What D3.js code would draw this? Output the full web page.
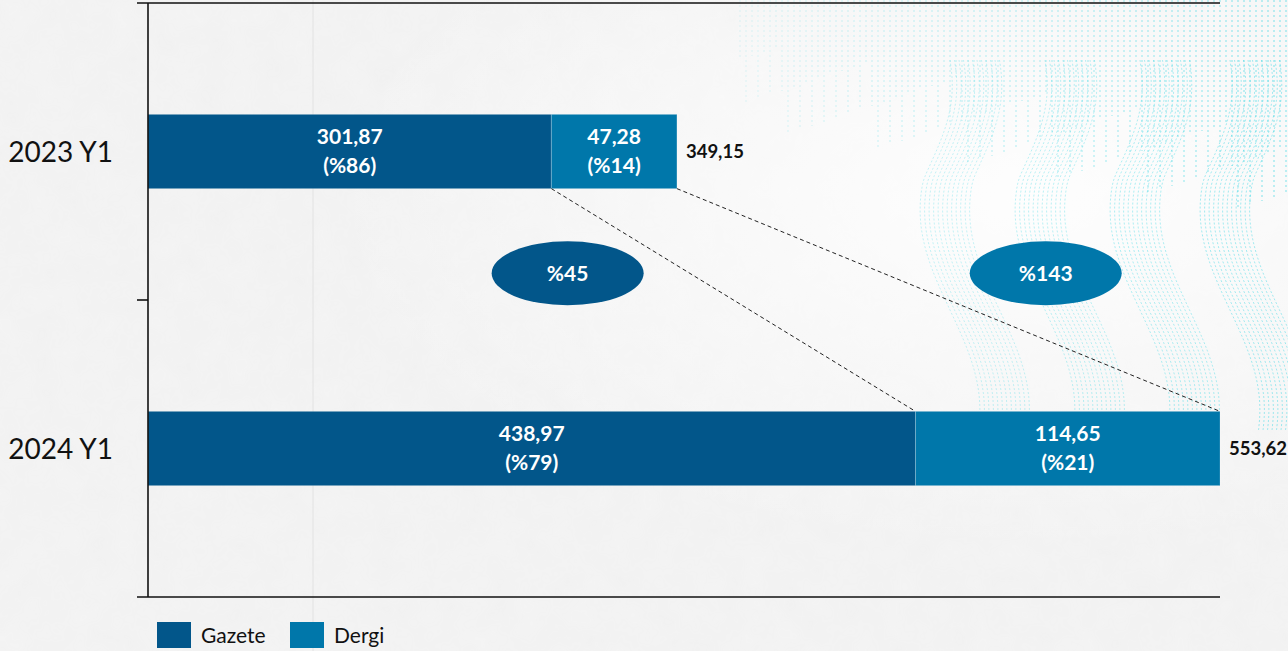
<!DOCTYPE html>
<html>
<head>
<meta charset="utf-8">
<script src="https://cdn.jsdelivr.net/npm/d3@7"></script>
<style>
  html, body { margin: 0; padding: 0; background: #f4f4f4; }
  svg { display: block; font-family: Lato, "Noto Sans", sans-serif; }
</style>
</head>
<body>
<svg id="chart" width="1288" height="651"></svg>
<script>
// data
var categories = ["2023 Y1", "2024 Y1"];
var gazete = [301.87, 438.97];
var dergi = [47.28, 114.65];
var gazetePct = [86, 79];
var dergiPct = [14, 21];
var totals = [349.15, 553.62];
var growthLabels = ["%45", "%143"];
var growthAt = [308, 488];      // x value where the growth bubble sits
var seriesNames = ["Gazete", "Dergi"];
var xDomain = [150, 553.62];

var colGazete = "#02568a";
var colDergi = "#0077aa";

var W = 1288, H = 651;
var plotLeft = 148, plotRight = 1220, plotTop = 3, plotBottom = 597;

var tr = d3.formatLocale({decimal: ",", thousands: ".", grouping: [3], currency: ["", ""]});
var fmt = tr.format(".2f");

var svg = d3.select("#chart");
var defs = svg.append("defs");

// ---- background ----
var grain = defs.append("filter").attr("id", "grain");
grain.append("feTurbulence").attr("type", "fractalNoise").attr("baseFrequency", 0.035).attr("numOctaves", 3).attr("seed", 4);
grain.append("feColorMatrix").attr("type", "matrix")
    .attr("values", "0 0 0 0 0.55  0 0 0 0 0.55  0 0 0 0 0.55  0 0 0 0.10 0");

var glow = defs.append("radialGradient").attr("id", "glow")
    .attr("cx", 0.8).attr("cy", 0.3).attr("r", 0.55);
glow.append("stop").attr("offset", 0).attr("stop-color", "#ffffff").attr("stop-opacity", 0.9);
glow.append("stop").attr("offset", 1).attr("stop-color", "#ffffff").attr("stop-opacity", 0);

svg.append("rect").attr("width", W).attr("height", H).attr("fill", "#f4f4f4");
svg.append("rect").attr("width", W).attr("height", H).attr("filter", "url(#grain)").attr("opacity", 0.6);
svg.append("rect").attr("width", W).attr("height", H).attr("fill", "url(#glow)");

// decorative teal pattern (upper right)
var deco = svg.append("g").attr("fill", "none").attr("stroke", "#3fd8e4");
var waveLine = d3.line().curve(d3.curveBasis);
var bundles = [950, 1045, 1140, 1230, 1320];
bundles.forEach(function(b, bi) {
    for (var k = 0; k < 12; k++) {
        var x0 = b + k * 4.5;
        var pts = d3.range(60, 440, 10).map(function(yy) {
            var amp = 30 * Math.min(1, (yy - 60) / 120);
            return [x0 - amp * Math.sin(Math.PI * (yy - 110) / 200), yy];
        });
        deco.append("path").attr("d", waveLine(pts))
            .attr("stroke-width", 1).attr("stroke-dasharray", "2,2")
            .attr("opacity", 0.3 + 0.06 * bi);
    }
});
// dotted streaks at the top
var streaks = svg.append("g").attr("stroke", "#3fd8e4");
for (var sx = 740; sx < W; sx += 6) {
    var len = 40 + ((sx * 37) % 90);
    streaks.append("line").attr("x1", sx).attr("x2", sx).attr("y1", 0).attr("y2", len + (sx - 740) / 6)
        .attr("stroke-width", 1.5).attr("stroke-dasharray", "2,3")
        .attr("opacity", 0.1 + 0.35 * (sx - 740) / (W - 740));
}
// faint seam line in the background
svg.append("line").attr("x1", 313).attr("x2", 313).attr("y1", 0).attr("y2", H)
    .attr("stroke", "#e2e2e2").attr("stroke-width", 1);

// ---- scales ----
var x = d3.scaleLinear().domain(xDomain).range([plotLeft, plotRight]);
var y = d3.scaleBand().domain(categories).range([plotTop, plotBottom]).paddingInner(0.75).paddingOuter(0.375);
var bw = y.bandwidth();

function xc(v) { return x(Math.max(v, xDomain[0])); }

// ---- bars ----
var rows = categories.map(function(c, i) {
    return {cat: c, g: gazete[i], d: dergi[i], gp: gazetePct[i], dp: dergiPct[i], t: totals[i]};
});

var g = svg.append("g");
rows.forEach(function(r) {
    var y0 = y(r.cat);
    g.append("rect").attr("x", xc(0)).attr("y", y0).attr("width", xc(r.g) - xc(0)).attr("height", bw)
        .attr("fill", colGazete).attr("stroke", "#ffffff").attr("stroke-opacity", 0.2).attr("stroke-width", 1);
    g.append("rect").attr("x", xc(r.g)).attr("y", y0).attr("width", xc(r.g + r.d) - xc(r.g)).attr("height", bw)
        .attr("fill", colDergi).attr("stroke", "#ffffff").attr("stroke-opacity", 0.2).attr("stroke-width", 1);

    var cy = y0 + bw / 2;
    [[xc(0), xc(r.g), r.g, r.gp], [xc(r.g), xc(r.g + r.d), r.d, r.dp]].forEach(function(s) {
        var t = g.append("text").attr("x", (s[0] + s[1]) / 2).attr("text-anchor", "middle")
            .attr("fill", "#ffffff").attr("font-weight", 700).attr("font-size", 21);
        t.append("tspan").attr("x", (s[0] + s[1]) / 2).attr("y", cy - 8).text(fmt(s[2]));
        t.append("tspan").attr("x", (s[0] + s[1]) / 2).attr("y", cy + 21).text("(%" + s[3] + ")");
    });

    g.append("text").attr("x", x(r.t) + 9).attr("y", cy + 6)
        .attr("font-weight", 700).attr("font-size", 18.5).attr("fill", "#111")
        .text(fmt(r.t));

    g.append("text").attr("x", plotLeft - 35).attr("y", cy + 10).attr("text-anchor", "end")
        .attr("font-size", 28).attr("fill", "#111").text(r.cat);
});

// ---- connector lines ----
var yA = y(categories[0]) + bw, yB = y(categories[1]);
var conn = svg.append("g").attr("stroke", "#222").attr("stroke-width", 1).attr("stroke-dasharray", "4,3");
conn.append("line").attr("x1", x(gazete[0])).attr("y1", yA).attr("x2", x(gazete[1])).attr("y2", yB);
conn.append("line").attr("x1", x(totals[0])).attr("y1", yA).attr("x2", x(totals[1])).attr("y2", yB);

// ---- growth bubbles ----
var by = yA + 0.38 * (yB - yA);
[colGazete, colDergi].forEach(function(col, i) {
    svg.append("ellipse").attr("cx", x(growthAt[i])).attr("cy", by).attr("rx", 76).attr("ry", 32).attr("fill", col);
    svg.append("text").attr("x", x(growthAt[i])).attr("y", by + 8).attr("text-anchor", "middle")
        .attr("fill", "#fff").attr("font-weight", 700).attr("font-size", 21).text(growthLabels[i]);
});

// ---- axes ----
var ax = svg.append("g").attr("stroke", "#111").attr("stroke-width", 1.6);
ax.append("line").attr("x1", plotLeft).attr("x2", plotLeft).attr("y1", plotTop).attr("y2", plotBottom);
d3.range(categories.length + 1).forEach(function(k) {
    var ty = plotTop + k * (plotBottom - plotTop) / categories.length;
    ax.append("line").attr("x1", plotLeft - 11).attr("x2", (k === 0 || k === categories.length) ? plotRight : plotLeft)
        .attr("y1", ty).attr("y2", ty);
});

// ---- legend ----
var lg = svg.append("g").attr("transform", "translate(157,622)");
[[0, colGazete], [133, colDergi]].forEach(function(e, i) {
    lg.append("rect").attr("x", e[0]).attr("y", 0).attr("width", 34).attr("height", 26).attr("fill", e[1]);
    lg.append("text").attr("x", e[0] + 44).attr("y", 21).attr("font-size", 21).attr("fill", "#111").text(seriesNames[i]);
});
</script>
</body>
</html>
